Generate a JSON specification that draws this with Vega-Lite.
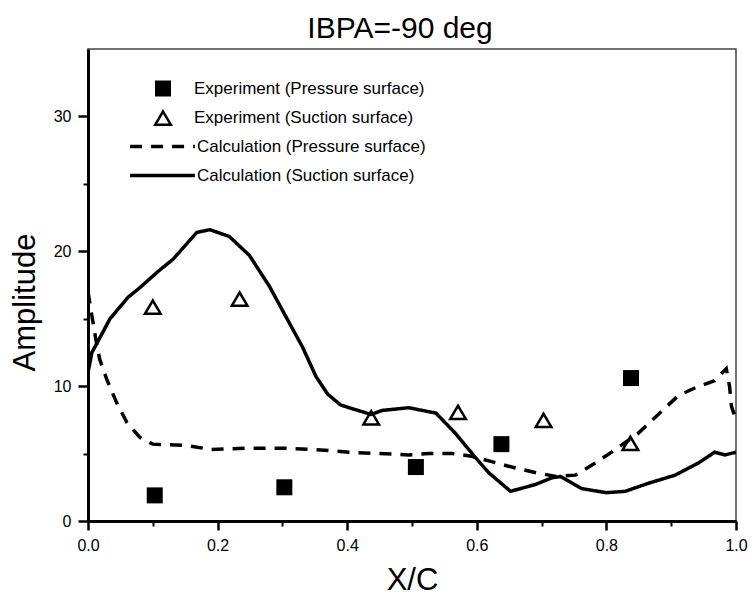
{
  "$schema": "https://vega.github.io/schema/vega-lite/v6.json",
  "autosize": {"type": "none"},
  "width": 648,
  "height": 472,
  "padding": {"left": 88, "top": 49, "right": 16, "bottom": 84},
  "background": "white",
  "title": {"text": "IBPA=-90 deg", "fontSize": 30, "font": "Liberation Sans", "fontWeight": "normal", "offset": 5, "dx": -12, "color": "black"},
  "config": {
    "font": "Liberation Sans",
    "view": {"stroke": "#444444", "strokeWidth": 1.5},
    "axis": {
      "grid": false, "ticks": true, "domainColor": "black", "domainWidth": 3,
      "labelColor": "black", "titleColor": "black", "labelFontSize": 16, "titleFontSize": 31,
      "titleFontWeight": "normal", "labelFont": "Liberation Sans", "titleFont": "Liberation Sans"
    }
  },
  "resolve": {"axis": {"x": "independent", "y": "independent"}},
  "datasets": {
    "exp": [
      {"series": "Experiment (Pressure surface)", "x": 0.103, "y": 1.9},
      {"series": "Experiment (Pressure surface)", "x": 0.303, "y": 2.5},
      {"series": "Experiment (Pressure surface)", "x": 0.506, "y": 4.0},
      {"series": "Experiment (Pressure surface)", "x": 0.638, "y": 5.7},
      {"series": "Experiment (Pressure surface)", "x": 0.838, "y": 10.6},
      {"series": "Experiment (Suction surface)", "x": 0.1, "y": 15.9},
      {"series": "Experiment (Suction surface)", "x": 0.234, "y": 16.5},
      {"series": "Experiment (Suction surface)", "x": 0.437, "y": 7.7},
      {"series": "Experiment (Suction surface)", "x": 0.571, "y": 8.1},
      {"series": "Experiment (Suction surface)", "x": 0.703, "y": 7.5},
      {"series": "Experiment (Suction surface)", "x": 0.837, "y": 5.8}
    ],
    "calc": [
      {"series": "Calculation (Pressure surface)", "x": 0.0, "y": 17.0},
      {"series": "Calculation (Pressure surface)", "x": 0.005, "y": 15.5},
      {"series": "Calculation (Pressure surface)", "x": 0.012, "y": 13.5},
      {"series": "Calculation (Pressure surface)", "x": 0.018, "y": 12.0},
      {"series": "Calculation (Pressure surface)", "x": 0.029, "y": 10.5},
      {"series": "Calculation (Pressure surface)", "x": 0.044, "y": 8.8},
      {"series": "Calculation (Pressure surface)", "x": 0.06, "y": 7.3},
      {"series": "Calculation (Pressure surface)", "x": 0.08, "y": 6.2},
      {"series": "Calculation (Pressure surface)", "x": 0.1, "y": 5.7},
      {"series": "Calculation (Pressure surface)", "x": 0.152, "y": 5.6},
      {"series": "Calculation (Pressure surface)", "x": 0.19, "y": 5.3},
      {"series": "Calculation (Pressure surface)", "x": 0.25, "y": 5.4},
      {"series": "Calculation (Pressure surface)", "x": 0.3, "y": 5.4},
      {"series": "Calculation (Pressure surface)", "x": 0.35, "y": 5.3},
      {"series": "Calculation (Pressure surface)", "x": 0.403, "y": 5.1},
      {"series": "Calculation (Pressure surface)", "x": 0.45, "y": 5.0},
      {"series": "Calculation (Pressure surface)", "x": 0.495, "y": 4.9},
      {"series": "Calculation (Pressure surface)", "x": 0.526, "y": 5.0},
      {"series": "Calculation (Pressure surface)", "x": 0.562, "y": 5.0},
      {"series": "Calculation (Pressure surface)", "x": 0.592, "y": 4.8},
      {"series": "Calculation (Pressure surface)", "x": 0.623, "y": 4.4},
      {"series": "Calculation (Pressure surface)", "x": 0.654, "y": 4.0},
      {"series": "Calculation (Pressure surface)", "x": 0.69, "y": 3.6},
      {"series": "Calculation (Pressure surface)", "x": 0.722, "y": 3.3},
      {"series": "Calculation (Pressure surface)", "x": 0.752, "y": 3.4},
      {"series": "Calculation (Pressure surface)", "x": 0.783, "y": 4.3},
      {"series": "Calculation (Pressure surface)", "x": 0.814, "y": 5.3},
      {"series": "Calculation (Pressure surface)", "x": 0.849, "y": 6.5},
      {"series": "Calculation (Pressure surface)", "x": 0.88, "y": 7.9},
      {"series": "Calculation (Pressure surface)", "x": 0.911, "y": 9.3},
      {"series": "Calculation (Pressure surface)", "x": 0.938, "y": 9.9},
      {"series": "Calculation (Pressure surface)", "x": 0.967, "y": 10.4},
      {"series": "Calculation (Pressure surface)", "x": 0.985, "y": 11.3},
      {"series": "Calculation (Pressure surface)", "x": 0.99, "y": 10.0},
      {"series": "Calculation (Pressure surface)", "x": 0.993, "y": 8.5},
      {"series": "Calculation (Pressure surface)", "x": 0.998, "y": 7.8},
      {"series": "Calculation (Suction surface)", "x": 0.0, "y": 11.0},
      {"series": "Calculation (Suction surface)", "x": 0.006, "y": 12.5},
      {"series": "Calculation (Suction surface)", "x": 0.014, "y": 13.2},
      {"series": "Calculation (Suction surface)", "x": 0.034, "y": 15.0},
      {"series": "Calculation (Suction surface)", "x": 0.062, "y": 16.6},
      {"series": "Calculation (Suction surface)", "x": 0.08, "y": 17.3},
      {"series": "Calculation (Suction surface)", "x": 0.108, "y": 18.5},
      {"series": "Calculation (Suction surface)", "x": 0.131, "y": 19.4},
      {"series": "Calculation (Suction surface)", "x": 0.168, "y": 21.4},
      {"series": "Calculation (Suction surface)", "x": 0.188, "y": 21.6},
      {"series": "Calculation (Suction surface)", "x": 0.218, "y": 21.1},
      {"series": "Calculation (Suction surface)", "x": 0.249, "y": 19.7},
      {"series": "Calculation (Suction surface)", "x": 0.28, "y": 17.4},
      {"series": "Calculation (Suction surface)", "x": 0.306, "y": 15.1},
      {"series": "Calculation (Suction surface)", "x": 0.331, "y": 12.9},
      {"series": "Calculation (Suction surface)", "x": 0.352, "y": 10.7},
      {"series": "Calculation (Suction surface)", "x": 0.37, "y": 9.4},
      {"series": "Calculation (Suction surface)", "x": 0.39, "y": 8.6},
      {"series": "Calculation (Suction surface)", "x": 0.403, "y": 8.4},
      {"series": "Calculation (Suction surface)", "x": 0.437, "y": 7.9},
      {"series": "Calculation (Suction surface)", "x": 0.454, "y": 8.2},
      {"series": "Calculation (Suction surface)", "x": 0.495, "y": 8.4},
      {"series": "Calculation (Suction surface)", "x": 0.537, "y": 8.0},
      {"series": "Calculation (Suction surface)", "x": 0.567, "y": 6.5},
      {"series": "Calculation (Suction surface)", "x": 0.598, "y": 4.7},
      {"series": "Calculation (Suction surface)", "x": 0.618, "y": 3.6},
      {"series": "Calculation (Suction surface)", "x": 0.652, "y": 2.2},
      {"series": "Calculation (Suction surface)", "x": 0.69, "y": 2.7},
      {"series": "Calculation (Suction surface)", "x": 0.716, "y": 3.2},
      {"series": "Calculation (Suction surface)", "x": 0.729, "y": 3.3},
      {"series": "Calculation (Suction surface)", "x": 0.762, "y": 2.4},
      {"series": "Calculation (Suction surface)", "x": 0.8, "y": 2.1},
      {"series": "Calculation (Suction surface)", "x": 0.829, "y": 2.2},
      {"series": "Calculation (Suction surface)", "x": 0.865, "y": 2.8},
      {"series": "Calculation (Suction surface)", "x": 0.906, "y": 3.4},
      {"series": "Calculation (Suction surface)", "x": 0.942, "y": 4.3},
      {"series": "Calculation (Suction surface)", "x": 0.967, "y": 5.1},
      {"series": "Calculation (Suction surface)", "x": 0.983, "y": 4.9},
      {"series": "Calculation (Suction surface)", "x": 1.0, "y": 5.1}
    ]
  },
  "layer": [
    {
      "data": {"name": "calc"},
      "mark": {"type": "line", "color": "black", "strokeWidth": 3.5, "clip": true},
      "encoding": {
        "x": {
          "field": "x", "type": "quantitative",
          "scale": {"domain": [0, 1], "nice": false, "zero": false},
          "axis": {
            "title": "X/C", "orient": "bottom", "ticks": true, "tickColor": "#000000", "tickWidth": 2.5, "tickOpacity": 1,
            "values": [0, 0.2, 0.4, 0.6, 0.8, 1.0], "format": ".1f",
            "tickSize": 9, "labelPadding": 7, "titlePadding": 12, "labelFlush": false, "labelOverlap": false
          }
        },
        "y": {
          "field": "y", "type": "quantitative",
          "scale": {"domain": [0, 35], "nice": false},
          "axis": {
            "title": "Amplitude", "orient": "left", "ticks": true, "tickColor": "#000000", "tickWidth": 2.5, "tickOpacity": 1,
            "values": [0, 10, 20, 30], "format": "d",
            "tickSize": 10, "labelPadding": 7, "titlePadding": 12, "titleY": 253, "labelOverlap": false
          }
        },
        "strokeDash": {
          "field": "series", "type": "nominal",
          "scale": {"domain": ["Calculation (Pressure surface)", "Calculation (Suction surface)"], "range": [[12, 9], [1, 0]]},
          "legend": {
            "orient": "none", "legendX": 40, "legendY": 88, "title": null,
            "labelFontSize": 17, "labelFont": "Liberation Sans", "labelColor": "black", "labelOffset": 0,
            "symbolType": "stroke", "symbolSize": 4200, "symbolStrokeWidth": 3.5, "symbolStrokeColor": "black",
            "clipHeight": 19, "rowPadding": 10, "padding": 0, "labelLimit": 400
          }
        }
      }
    },
    {
      "data": {"name": "exp"},
      "mark": {"type": "point", "size": 400, "filled": true, "color": "black", "strokeWidth": 0, "opacity": 1},
      "encoding": {
        "x": {
          "field": "x", "type": "quantitative",
          "axis": {"orient": "bottom", "values": [0.1, 0.3, 0.5, 0.7, 0.9], "labels": false, "domain": false, "ticks": true, "tickColor": "#000000", "tickWidth": 2, "tickOpacity": 1, "tickSize": 5, "title": null}
        },
        "y": {
          "field": "y", "type": "quantitative",
          "axis": {"orient": "left", "values": [5, 15, 25], "labels": false, "domain": false, "ticks": true, "tickColor": "#000000", "tickWidth": 2, "tickOpacity": 1, "tickSize": 5, "title": null}
        },
        "shape": {
          "field": "series", "type": "nominal",
          "scale": {
            "domain": ["Experiment (Pressure surface)", "Experiment (Suction surface)"],
            "range": ["M-0.8,-0.8H0.8V0.8H-0.8Z", "M0,-0.85L1,0.85L-1,0.85Z M0,-0.357L-0.563,0.6L0.563,0.6Z"]
          },
          "legend": {
            "orient": "none", "legendX": 65, "legendY": 30, "title": null,
            "labelFontSize": 17, "labelFont": "Liberation Sans", "labelColor": "black", "labelOffset": 21,
            "symbolSize": 400, "symbolFillColor": "black", "symbolStrokeWidth": 0,
            "clipHeight": 19, "rowPadding": 10, "padding": 0, "labelLimit": 400
          }
        }
      }
    }
  ]
}
